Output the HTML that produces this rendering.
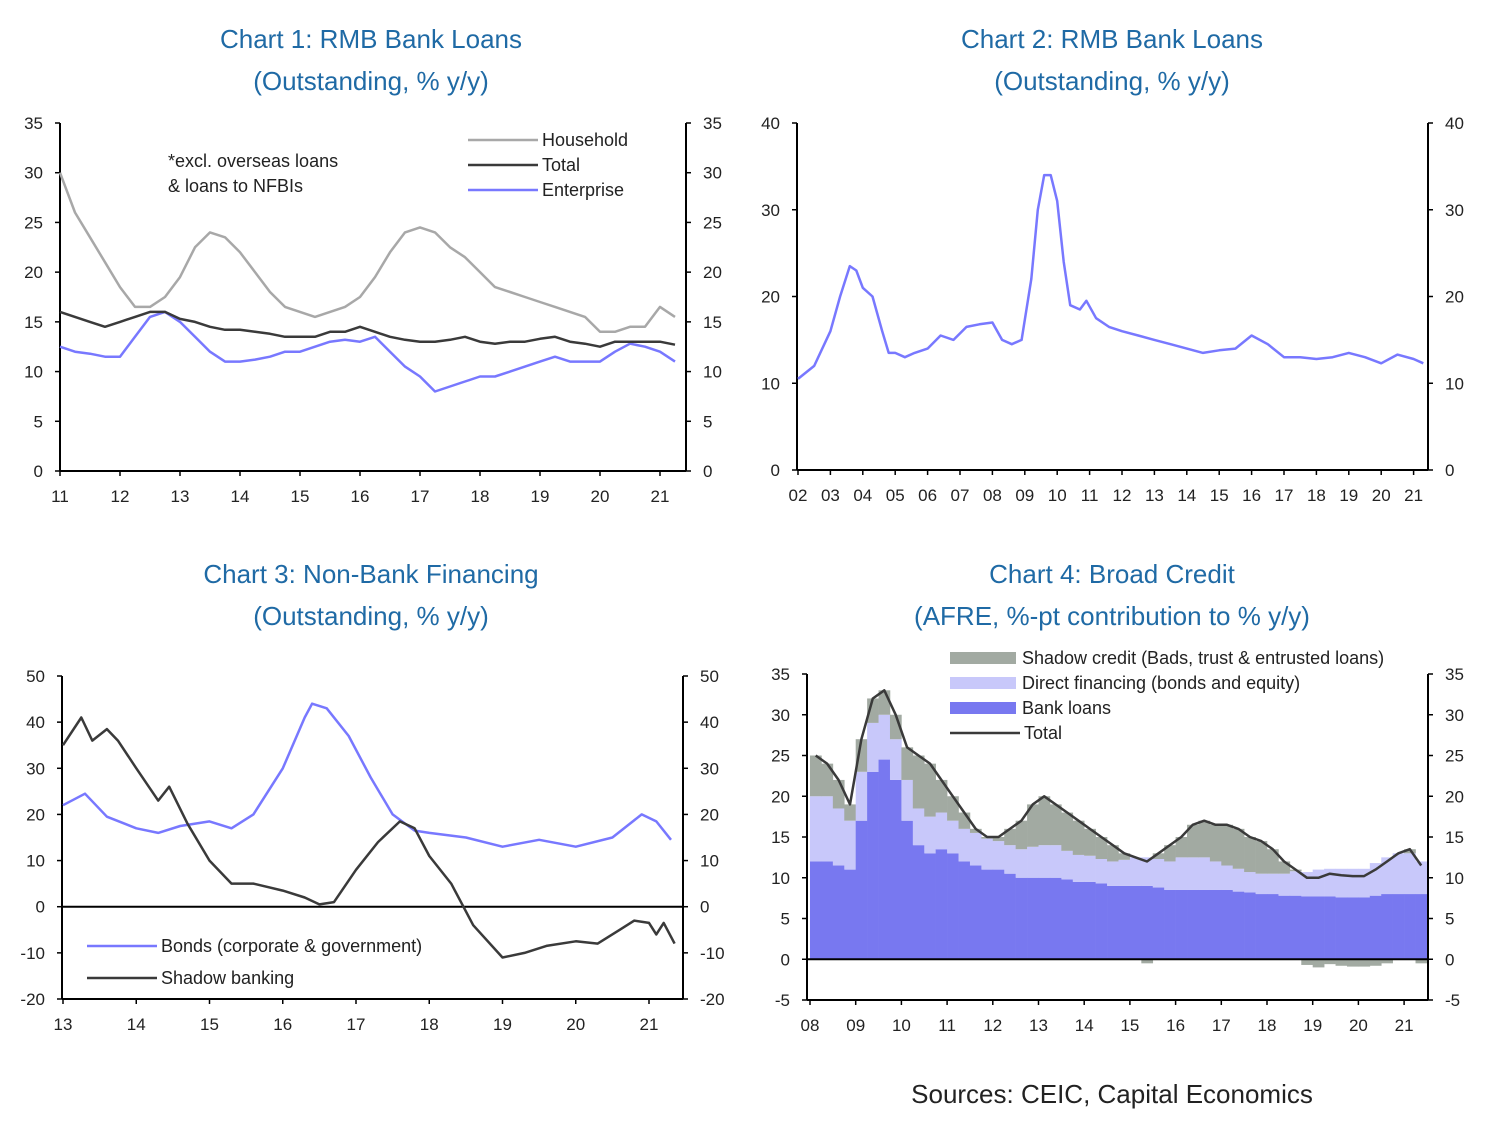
<!DOCTYPE html>
<html><head><meta charset="utf-8">
<style>
body{margin:0;background:#fff;width:1492px;height:1130px;overflow:hidden;font-family:"Liberation Sans",sans-serif}
svg text{font-family:"Liberation Sans",sans-serif}
</style></head>
<body>
<svg id="c" width="1492" height="1130" xmlns="http://www.w3.org/2000/svg"></svg>
<script>
// ---- Chart 1 data (quarterly from 2011.0) ----
const c1Household=[30,26,23.5,21,18.5,16.5,16.5,17.5,19.5,22.5,24,23.5,22,20,18,16.5,16,15.5,16,16.5,17.5,19.5,22,24,24.5,24,22.5,21.5,20,18.5,18,17.5,17,16.5,16,15.5,14,14,14.5,14.5,16.5,15.5];
const c1Total=[16,15.5,15,14.5,15,15.5,16,16,15.3,15,14.5,14.2,14.2,14,13.8,13.5,13.5,13.5,14,14,14.5,14,13.5,13.2,13,13,13.2,13.5,13,12.8,13,13,13.3,13.5,13,12.8,12.5,13,13,13,13,12.7];
const c1Enterprise=[12.5,12,11.8,11.5,11.5,13.5,15.5,16,15,13.5,12,11,11,11.2,11.5,12,12,12.5,13,13.2,13,13.5,12,10.5,9.5,8,8.5,9,9.5,9.5,10,10.5,11,11.5,11,11,11,12,12.8,12.5,12,11];
const c1XTicks=["11","12","13","14","15","16","17","18","19","20","21"];
const c1YTicks=[0,5,10,15,20,25,30,35];
// ---- Chart 2 data ----
const c2Years=[2002.0,2002.5,2003.0,2003.3,2003.6,2003.8,2004.0,2004.3,2004.6,2004.8,2005.0,2005.3,2005.6,2006.0,2006.4,2006.8,2007.2,2007.6,2008.0,2008.3,2008.6,2008.9,2009.2,2009.4,2009.6,2009.8,2010.0,2010.2,2010.4,2010.7,2010.9,2011.2,2011.6,2012.0,2012.5,2013.0,2013.5,2014.0,2014.5,2015.0,2015.5,2016.0,2016.5,2017.0,2017.5,2018.0,2018.5,2019.0,2019.5,2020.0,2020.5,2021.0,2021.3];
const c2Loans=[10.5,12,16,20,23.5,23,21,20,16,13.5,13.5,13,13.5,14,15.5,15,16.5,16.8,17,15,14.5,15,22,30,34,34,31,24,19,18.5,19.5,17.5,16.5,16,15.5,15,14.5,14,13.5,13.8,14,15.5,14.5,13,13,12.8,13,13.5,13,12.3,13.3,12.8,12.3];
const c2XTicks=["02","03","04","05","06","07","08","09","10","11","12","13","14","15","16","17","18","19","20","21"];
const c2YTicks=[0,10,20,30,40];
// ---- Chart 3 data ----
const c3BondYears=[2013.0,2013.3,2013.6,2014.0,2014.3,2014.6,2015.0,2015.3,2015.6,2016.0,2016.3,2016.4,2016.6,2016.9,2017.2,2017.5,2017.8,2018.0,2018.5,2019.0,2019.5,2020.0,2020.5,2020.9,2021.1,2021.3];
const c3Bonds=[22,24.5,19.5,17,16,17.5,18.5,17,20,30,41,44,43,37,28,20,16.5,16,15,13,14.5,13,15,20,18.5,14.5];
const c3ShadowYears=[2013.0,2013.25,2013.4,2013.6,2013.75,2014.0,2014.3,2014.45,2014.7,2015.0,2015.3,2015.6,2016.0,2016.3,2016.5,2016.7,2017.0,2017.3,2017.6,2017.8,2018.0,2018.3,2018.6,2019.0,2019.3,2019.6,2020.0,2020.3,2020.6,2020.8,2021.0,2021.1,2021.2,2021.35];
const c3Shadow=[35,41,36,38.5,36,30,23,26,18,10,5,5,3.5,2,0.5,1,8,14,18.5,17,11,5,-4,-11,-10,-8.5,-7.5,-8,-5,-3,-3.5,-6,-3.5,-8];
const c3XTicks=["13","14","15","16","17","18","19","20","21"];
const c3YTicks=[-20,-10,0,10,20,30,40,50];
// ---- Chart 4 data (quarterly from 2008.0) ----
const c4Bank=[12,12,11.5,11,17,23,24.5,22,17,14,13,13.5,13,12,11.5,11,11,10.5,10,10,10,10,9.8,9.5,9.5,9.3,9,9,9,9,8.8,8.5,8.5,8.5,8.5,8.5,8.5,8.3,8.2,8,8,7.8,7.8,7.7,7.7,7.7,7.6,7.6,7.6,7.8,8,8,8,8];
const c4Direct=[8,8,7,6,6,6,5.5,5,5,4.5,4.5,4.5,4,4,4,3.8,3.5,3.5,3.5,3.8,4,4,3.5,3.3,3.2,3,3,3.2,3.5,3.5,3.5,3.5,4,4,4,3.5,3,2.8,2.5,2.5,2.5,2.7,3,3,3.3,3.4,3.5,3.5,3.5,4,4.5,5,5,4];
const c4Shadow=[5,4,3.5,2,4,3,3,3,4,6.5,6.5,4,3,2,0.5,0.2,0.5,2,3.5,5.2,6,5,4.7,4.2,3.3,2.7,2,0.8,0,-0.5,0.7,2,2.5,4,4.5,4.5,5,4.9,4.3,4,3,1.5,0.2,-0.7,-1,-0.6,-0.8,-0.9,-0.9,-0.8,-0.5,0,0.5,-0.5];
const c4Total=[25,24,22,19,27,32,33,30,26,25,24,22,20,18,16,15,15,16,17,19,20,19,18,17,16,15,14,13,12.5,12,13,14,15,16.5,17,16.5,16.5,16,15,14.5,13.5,12,11,10,10,10.5,10.3,10.2,10.2,11,12,13,13.5,11.5];
const c4XTicks=["08","09","10","11","12","13","14","15","16","17","18","19","20","21"];
const c4YTicks=[-5,0,5,10,15,20,25,30,35];

const S=document.getElementById('c');
const NS='http://www.w3.org/2000/svg';
function mk(tag,at,parent){const e=document.createElementNS(NS,tag);for(const k in at)e.setAttribute(k,at[k]);(parent||S).appendChild(e);return e;}
function txt(s,x,y,size,anchor,fill,parent){const t=mk('text',{x:x,y:y,'font-size':size,'text-anchor':anchor||'middle',fill:fill||'#222'},parent);t.textContent=s;return t;}

function axes(name,L,R,top,bot,yMin,yMax,yTicks,x0,xStep,xTicks,g){
  const sy=v=>bot-(v-yMin)/(yMax-yMin)*(bot-top);
  const a=mk('g',{},g);
  
  
  mk('line',{x1:L,y1:top,x2:L,y2:bot,stroke:'#000','stroke-width':2},a);
  mk('line',{x1:R,y1:top,x2:R,y2:bot,stroke:'#000','stroke-width':2},a);
  mk('line',{x1:L,y1:bot,x2:R,y2:bot,stroke:'#000','stroke-width':2},a);
  yTicks.forEach(v=>{const y=sy(v);
    mk('line',{x1:L-5,y1:y,x2:L,y2:y,stroke:'#000','stroke-width':1.5},a);
    mk('line',{x1:R,y1:y,x2:R+5,y2:y,stroke:'#000','stroke-width':1.5},a);
    const t1=txt(String(v),L-17,y+6,17,'end','#222',a);
    
    
    const t2=txt(String(v),R+17,y+6,17,'start','#222',a);
    
    
  });
  xTicks.forEach((s,i)=>{const x=x0+i*xStep;
    mk('line',{x1:x,y1:bot,x2:x,y2:bot+5,stroke:'#000','stroke-width':1.5},a);
    const t=txt(s,x,bot+31,17,'middle','#222',a);
    
    
  });
  return sy;
}
function line(xs,ys,sx,sy,color,w,name,g){
  const p=xs.map((x,i)=>(i?'L':'M')+sx(x).toFixed(1)+','+sy(ys[i]).toFixed(1)).join('');
  const e=mk('path',{d:p,fill:'none',stroke:color,'stroke-width':w,'stroke-linejoin':'round'},g);
  
  
}
function title(a,b,x,g){
  const t1=txt(a,x,48,26,'middle','#1f6aa5',g);
  
  
  const t2=txt(b,x,90,26,'middle','#1f6aa5',g);
  
  
}
function legend(items,x,y,dy,g){
  items.forEach((it,i)=>{const yy=y+i*dy;
    const e=mk('g',{},g);
    
    
    if(it.bar) mk('rect',{x:x,y:yy-6,width:66,height:12,fill:it.c},e);
    else mk('line',{x1:x,y1:yy,x2:x+70,y2:yy,stroke:it.c,'stroke-width':2.5},e);
    txt(it.t,x+(it.bar?72:74),yy+6,18,'start','#222',e);
  });
}
function qx(arr,start){return arr.map((_,i)=>start+i*0.25);}

// Chart 1
(function(){
  const g=mk('g',{});
  title('Chart 1: RMB Bank Loans','(Outstanding, % y/y)',371,g);
  const sy=axes('chart-1',60,686,123,471,0,35,c1YTicks,60,60,c1XTicks,g);
  const sx=v=>60+(v-2011)*60;
  const xs=qx(c1Household,2011);
  line(xs,c1Household,sx,sy,'#a8a8a8',2.5,'household-line',g);
  line(xs,c1Enterprise,sx,sy,'#7878ff',2.5,'enterprise-line',g);
  line(xs,c1Total,sx,sy,'#3a3a3a',2.5,'total-line',g);
  const n1=txt('*excl. overseas loans',168,167,18,'start','#222',g);
  
  const n2=txt('& loans to NFBIs',168,192,18,'start','#222',g);
  
  legend([{t:'Household',c:'#a8a8a8'},{t:'Total',c:'#3a3a3a'},{t:'Enterprise',c:'#7878ff'}],468,140,25,g);
})();
// Chart 2
(function(){
  const g=mk('g',{});
  title('Chart 2: RMB Bank Loans','(Outstanding, % y/y)',1112,g);
  const sy=axes('chart-2',797,1428,123,470,0,40,c2YTicks,798,32.4,c2XTicks,g);
  const sx=v=>798+(v-2002)*32.4;
  line(c2Years,c2Loans,sx,sy,'#7878ff',2.5,'loans-line',g);
})();
// Chart 3
(function(){
  const g=mk('g',{});
  title('Chart 3: Non-Bank Financing','(Outstanding, % y/y)',371,g);
  title;
  const t=g.querySelectorAll('text');t[0].setAttribute('y',583);t[1].setAttribute('y',625);
  const sy=axes('chart-3',62,683,676,999,-20,50,c3YTicks,63,73.25,c3XTicks,g);
  const sx=v=>63+(v-2013)*73.25;
  mk('line',{x1:62,y1:sy(0),x2:683,y2:sy(0),stroke:'#000','stroke-width':2},g);
  line(c3BondYears,c3Bonds,sx,sy,'#7878ff',2.5,'bonds-line',g);
  line(c3ShadowYears,c3Shadow,sx,sy,'#3a3a3a',2.5,'shadow-banking-line',g);
  legend([{t:'Bonds (corporate & government)',c:'#7878ff'},{t:'Shadow banking',c:'#3a3a3a'}],87,946,32,g);
})();
// Chart 4
(function(){
  const g=mk('g',{});
  title('Chart 4: Broad Credit','(AFRE, %-pt contribution to % y/y)',1112,g);
  const t=g.querySelectorAll('text');t[0].setAttribute('y',583);t[1].setAttribute('y',625);
  const sx=v=>810+(v-2008)*45.7;
  const L=807,R=1428,top=674,bot=1000;
  const sy0=v=>bot-(v+5)/40*(bot-top);
  const bw=45.7/4;
  c4Bank.forEach((b,i)=>{
    const x=sx(2008+i*0.25);
    const d=c4Direct[i],s=c4Shadow[i];
    const r1=mk('rect',{x:x,y:sy0(b),width:bw+0.3,height:sy0(0)-sy0(b),fill:'#7878f0'},g);
    
    const r2=mk('rect',{x:x,y:sy0(b+d),width:bw+0.3,height:sy0(b)-sy0(b+d),fill:'#c8c8fa'},g);
    
    const y1=s>=0?sy0(b+d+s):sy0(0),h=Math.abs(sy0(s)-sy0(0));
    const r3=mk('rect',{x:x,y:y1,width:bw+0.3,height:h,fill:'#a3ab a3'.replace(' ','')},g);
    r3.setAttribute('fill','#a2aaa2');
    
  });
  const sy=axes('chart-4',L,R,top,bot,-5,35,c4YTicks,810,45.7,c4XTicks,g);
  mk('line',{x1:L,y1:sy(0),x2:R,y2:sy(0),stroke:'#000','stroke-width':2},g);
  line(qx(c4Total,2008).map(v=>v+0.125),c4Total,sx,sy,'#3a3a3a',2.5,'total-line',g);
  legend([{t:'Shadow credit (Bads, trust & entrusted loans)',c:'#a2aaa2',bar:true},{t:'Direct financing (bonds and equity)',c:'#c8c8fa',bar:true},{t:'Bank loans',c:'#7878f0',bar:true},{t:'Total',c:'#3a3a3a'}],950,658,25,g);
})();
const src=txt('Sources: CEIC, Capital Economics',1112,1103,26,'middle','#222');


</script>
</body></html>
